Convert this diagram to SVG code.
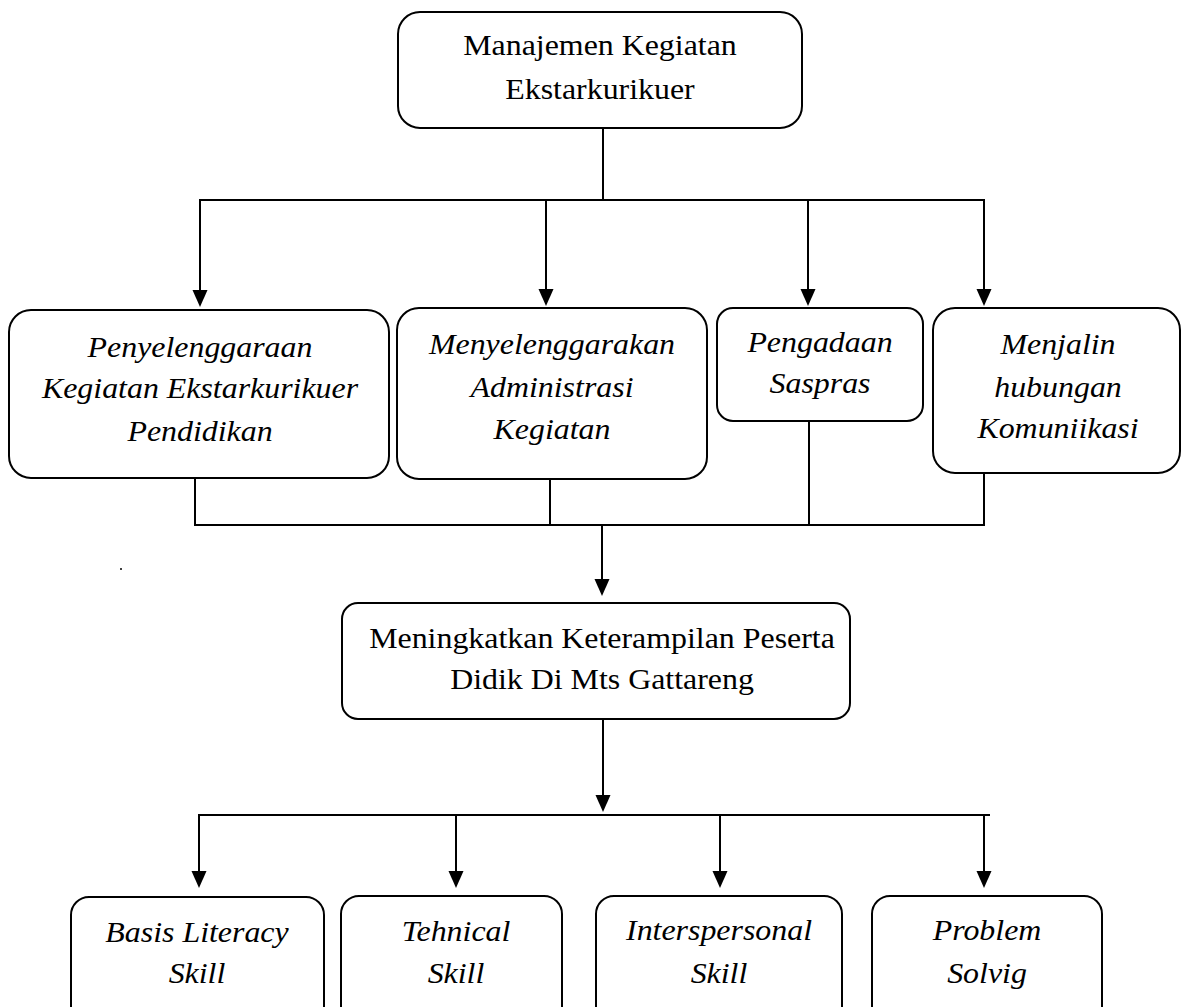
<svg xmlns="http://www.w3.org/2000/svg" width="1182" height="1007" viewBox="0 0 1182 1007">
  <style>
    .box { fill: #ffffff; stroke: #000000; stroke-width: 2; }
    .conn { stroke: #000000; stroke-width: 2; fill: none; }
    .t { font-family: "Liberation Serif", "Times New Roman", serif; font-size: 29px; fill: #000000; text-anchor: middle; }
    .i { font-style: italic; }
  </style>
  <defs>
    <marker id="arr" markerUnits="userSpaceOnUse" markerWidth="17" markerHeight="16" refX="0" refY="8" orient="auto" viewBox="0 0 17 16">
      <path d="M0,0.5 L17,8 L0,15.5 z" fill="#000000"/>
    </marker>
  </defs>
  <rect width="1182" height="1007" fill="#ffffff"/>

  <g id="connectors">
    <line class="conn" x1="603" y1="128" x2="603" y2="200"/>
    <line class="conn" x1="199" y1="200" x2="985" y2="200"/>
    <line class="conn" x1="200" y1="200" x2="200" y2="290" marker-end="url(#arr)"/>
    <line class="conn" x1="546" y1="200" x2="546" y2="289" marker-end="url(#arr)"/>
    <line class="conn" x1="808" y1="200" x2="808" y2="289" marker-end="url(#arr)"/>
    <line class="conn" x1="984" y1="200" x2="984" y2="289" marker-end="url(#arr)"/>

    <line class="conn" x1="195" y1="478" x2="195" y2="526"/>
    <line class="conn" x1="550" y1="479" x2="550" y2="526"/>
    <line class="conn" x1="809" y1="421" x2="809" y2="526"/>
    <line class="conn" x1="984" y1="473" x2="984" y2="526"/>
    <line class="conn" x1="194" y1="525" x2="985" y2="525"/>
    <line class="conn" x1="602" y1="525" x2="602" y2="579" marker-end="url(#arr)"/>

    <line class="conn" x1="603" y1="719" x2="603" y2="795" marker-end="url(#arr)"/>
    <line class="conn" x1="198" y1="815" x2="990" y2="815"/>
    <line class="conn" x1="199" y1="815" x2="199" y2="871" marker-end="url(#arr)"/>
    <line class="conn" x1="456" y1="815" x2="456" y2="871" marker-end="url(#arr)"/>
    <line class="conn" x1="720" y1="815" x2="720" y2="871" marker-end="url(#arr)"/>
    <line class="conn" x1="984" y1="815" x2="984" y2="871" marker-end="url(#arr)"/>
  </g>

  <circle cx="121" cy="569" r="1" fill="#000000"/>

  <g id="node-manajemen">
    <rect class="box" x="398" y="12" width="404" height="116" rx="22" ry="22"/>
    <g transform="translate(600 0) scale(1.1 1)">
      <text class="t" x="0" y="55">Manajemen Kegiatan</text>
      <text class="t" x="0" y="99">Ekstarkurikuer</text>
    </g>
  </g>

  <g id="node-penyelenggaraan">
    <rect class="box" x="9" y="310" width="380" height="168" rx="22" ry="22"/>
    <g transform="translate(200 0) scale(1.1 1)">
      <text class="t i" x="0" y="357">Penyelenggaraan</text>
      <text class="t i" x="0" y="398">Kegiatan Ekstarkurikuer</text>
      <text class="t i" x="0" y="441">Pendidikan</text>
    </g>
  </g>

  <g id="node-administrasi">
    <rect class="box" x="397" y="308" width="310" height="171" rx="22" ry="22"/>
    <g transform="translate(552 0) scale(1.1 1)">
      <text class="t i" x="0" y="354">Menyelenggarakan</text>
      <text class="t i" x="0" y="397">Administrasi</text>
      <text class="t i" x="0" y="439">Kegiatan</text>
    </g>
  </g>

  <g id="node-saspras">
    <rect class="box" x="717" y="308" width="206" height="113" rx="16" ry="16"/>
    <g transform="translate(820 0) scale(1.1 1)">
      <text class="t i" x="0" y="352">Pengadaan</text>
      <text class="t i" x="0" y="393">Saspras</text>
    </g>
  </g>

  <g id="node-komunikasi">
    <rect class="box" x="933" y="308" width="247" height="165" rx="22" ry="22"/>
    <g transform="translate(1058 0) scale(1.1 1)">
      <text class="t i" x="0" y="354">Menjalin</text>
      <text class="t i" x="0" y="397">hubungan</text>
      <text class="t i" x="0" y="438">Komuniikasi</text>
    </g>
  </g>

  <g id="node-keterampilan">
    <rect class="box" x="342" y="603" width="508" height="116" rx="16" ry="16"/>
    <g transform="translate(602 0) scale(1.1 1)">
      <text class="t" x="0" y="648">Meningkatkan Keterampilan Peserta</text>
      <text class="t" x="0" y="689">Didik Di Mts Gattareng</text>
    </g>
  </g>

  <g id="node-literacy">
    <rect class="box" x="71" y="897" width="253" height="130" rx="18" ry="18"/>
    <g transform="translate(197 0) scale(1.1 1)">
      <text class="t i" x="0" y="942">Basis Literacy</text>
      <text class="t i" x="0" y="983">Skill</text>
    </g>
  </g>

  <g id="node-technical">
    <rect class="box" x="341" y="896" width="221" height="131" rx="18" ry="18"/>
    <g transform="translate(456 0) scale(1.1 1)">
      <text class="t i" x="0" y="941">Tehnical</text>
      <text class="t i" x="0" y="983">Skill</text>
    </g>
  </g>

  <g id="node-interpersonal">
    <rect class="box" x="596" y="896" width="246" height="131" rx="18" ry="18"/>
    <g transform="translate(719 0) scale(1.1 1)">
      <text class="t i" x="0" y="940">Interspersonal</text>
      <text class="t i" x="0" y="983">Skill</text>
    </g>
  </g>

  <g id="node-problem">
    <rect class="box" x="872" y="896" width="230" height="131" rx="18" ry="18"/>
    <g transform="translate(987 0) scale(1.1 1)">
      <text class="t i" x="0" y="940">Problem</text>
      <text class="t i" x="0" y="983">Solvig</text>
    </g>
  </g>
</svg>
